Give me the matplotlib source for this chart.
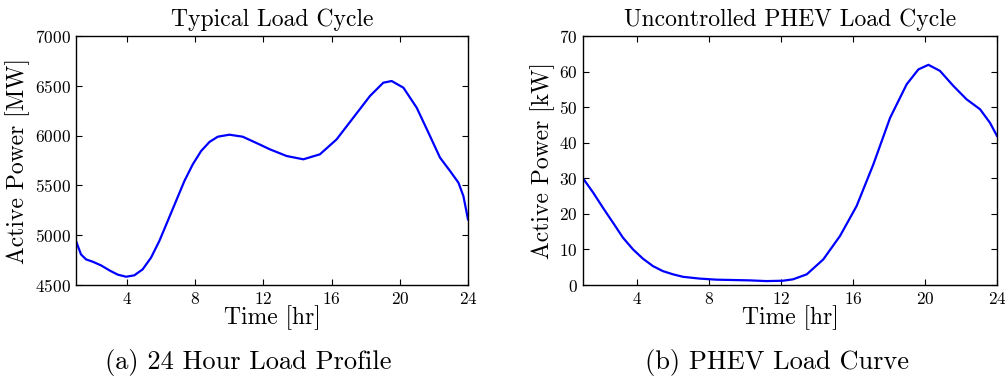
import matplotlib
matplotlib.use('Agg')
import matplotlib.pyplot as plt

plt.rcParams['font.family'] = 'serif'
plt.rcParams['font.serif'] = ['cmr10', 'DejaVu Serif']
plt.rcParams['axes.formatter.use_mathtext'] = True

# typical load cycle (hour, MW)
load_hours = [1.0, 1.29, 1.59, 1.98, 2.47, 2.96, 3.45, 3.94, 4.42, 4.91, 5.40,
              5.89, 6.38, 6.87, 7.36, 7.85, 8.34, 8.83, 9.32, 10.0, 10.78,
              11.76, 12.38, 13.36, 14.34, 15.31, 16.29, 17.27, 18.25, 19.03,
              19.52, 20.21, 20.99, 21.68, 22.36, 22.95, 23.44, 23.73, 24.0]
load_mw = [4942, 4808, 4757, 4734, 4697, 4647, 4604, 4583, 4597, 4657, 4774,
           4942, 5142, 5343, 5544, 5711, 5845, 5936, 5989, 6009, 5989,
           5912, 5862, 5795, 5762, 5812, 5962, 6180, 6398, 6531,
           6548, 6481, 6280, 6029, 5778, 5644, 5527, 5393, 5159]

# uncontrolled PHEV load (hour, kW)
phev_hours = [1.0, 1.56, 2.11, 2.67, 3.22, 3.78, 4.33, 4.89, 5.44, 6.0, 6.56,
              7.48, 8.41, 9.33, 10.26, 11.19, 12.11, 12.67, 13.43, 14.35,
              15.28, 16.2, 17.13, 18.06, 18.98, 19.63, 20.19, 20.83, 21.57,
              22.31, 23.06, 23.61, 24.0]
phev_kw = [30.0, 26.0, 21.7, 17.5, 13.3, 10.0, 7.4, 5.3, 3.9, 3.0, 2.3,
           1.8, 1.5, 1.4, 1.3, 1.1, 1.2, 1.6, 3.0, 7.2,
           13.8, 22.2, 33.9, 47.0, 56.4, 60.6, 61.9, 60.2, 56.0,
           52.2, 49.4, 45.6, 41.9]

hour_ticks = [4, 8, 12, 16, 20, 24]

fig = plt.figure(figsize=(10.05, 3.81), dpi=100)
ax1 = fig.add_axes([76/1005, 1-285/381, 392/1005, 249/381])
ax2 = fig.add_axes([583/1005, 1-285/381, 414/1005, 249/381])

ax1.plot(load_hours, load_mw, color='#0000ff', lw=1.6)
ax1.set_ylim(4500, 7000)
ax1.set_yticks(range(4500, 7001, 500))
ax1.set_title('Typical Load Cycle', fontsize=17, pad=7)
ax1.set_ylabel('Active Power [MW]', fontsize=17, labelpad=3)

ax2.plot(phev_hours, phev_kw, color='#0000ff', lw=1.6)
ax2.set_ylim(0, 70)
ax2.set_yticks(range(0, 71, 10))
ax2.set_title('Uncontrolled PHEV Load Cycle', fontsize=17, pad=7)
ax2.set_ylabel('Active Power [kW]', fontsize=17, labelpad=3)

for ax in (ax1, ax2):
    ax.set_xlim(1, 24)
    ax.set_xticks(hour_ticks)
    ax.set_xlabel('Time [hr]', fontsize=17, labelpad=-1)
    ax.tick_params(direction='in', top=True, right=True, length=4,
                   labelsize=12.5, pad=4)
    for s in ax.spines.values():
        s.set_linewidth(1.0)

fig.text(248/1005, 1-362/381, '(a) 24 Hour Load Profile', fontsize=19,
         ha='center', va='center')
fig.text(777/1005, 1-362/381, '(b) PHEV Load Curve', fontsize=19,
         ha='center', va='center')

fig.savefig('out.png', dpi=100)
